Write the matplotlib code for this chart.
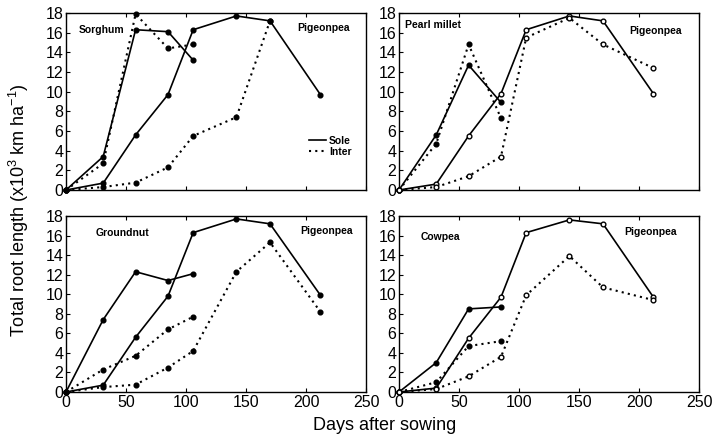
import matplotlib
matplotlib.use("Agg")
import matplotlib.pyplot as plt
from matplotlib.lines import Line2D

plt.rcParams['font.family'] = ['Liberation Sans', 'DejaVu Sans']
plt.rcParams['mathtext.fontset'] = 'custom'
plt.rcParams['mathtext.rm'] = 'Liberation Sans'
plt.rcParams['mathtext.it'] = 'Liberation Sans:italic'
plt.rcParams['mathtext.bf'] = 'Liberation Sans:bold'
plt.rcParams['mathtext.default'] = 'regular'

# ---- data ----
days_pp = [0, 31, 58, 85, 106, 142, 170, 212]
days_pp_inter_sorg = [0, 31, 58, 85, 106, 142, 170]
days_crop = [0, 31, 58, 85, 106]
days_crop_short = [0, 31, 58, 85]

# Sorghum / Pigeonpea
sorghum_sole = [0, 3.4, 16.3, 16.1, 13.2]
sorghum_inter = [0, 2.7, 17.9, 14.4, 14.8]
pp_sole_s = [0, 0.7, 5.6, 9.7, 16.3, 17.7, 17.2, 9.7]
pp_inter_s = [0, 0.3, 0.75, 2.3, 5.5, 7.4, 17.2]

# Pearl millet / Pigeonpea
millet_sole = [0, 5.6, 12.7, 8.9]
millet_inter = [0, 4.7, 14.8, 7.3]
pp_sole_m = [0, 0.6, 5.5, 9.8, 16.3, 17.7, 17.2, 9.8]
pp_inter_m = [0, 0.3, 1.4, 3.4, 15.5, 17.5, 14.8, 12.4]

# Groundnut / Pigeonpea
gnut_sole = [0, 7.4, 12.3, 11.4, 12.1]
gnut_inter = [0, 2.3, 3.7, 6.4, 7.7]
pp_sole_g = [0, 0.7, 5.6, 9.8, 16.3, 17.7, 17.2, 9.9]
pp_inter_g = [0, 0.5, 0.75, 2.5, 4.2, 12.3, 15.3, 8.2]

# Cowpea / Pigeonpea
cow_sole = [0, 3.0, 8.5, 8.7]
cow_inter = [0, 1.0, 4.7, 5.2]
pp_sole_c = [0, 0.4, 5.5, 9.7, 16.3, 17.6, 17.2, 9.7]
pp_inter_c = [0, 0.3, 1.6, 3.6, 9.9, 13.9, 10.7, 9.4]

yticks = list(range(0, 19, 2))
xticks = [0, 50, 100, 150, 200, 250]

W, H = 720, 446
fig = plt.figure(figsize=(W / 100, H / 100), dpi=100)

def ax_at(x0, y0, x1, y1):
    return fig.add_axes([x0 / W, 1 - y1 / H, (x1 - x0) / W, (y1 - y0) / H])

axTL = ax_at(66, 13, 366, 190)
axTR = ax_at(399, 13, 699, 190)
axBL = ax_at(66, 216, 366, 392)
axBR = ax_at(399, 216, 699, 392)

lw = 1.2
ms = 3.4

def plot(ax, x, y, ls, mfc='black'):
    ax.plot(x, y, color='black', linestyle=ls, linewidth=lw if ls == '-' else 1.5,
            marker='o', markersize=ms, markerfacecolor=mfc, markeredgecolor='black',
            markeredgewidth=1.0, clip_on=False, zorder=3)

dotted = (0, (1, 2))

plot(axTL, days_crop, sorghum_sole, '-')
plot(axTL, days_crop, sorghum_inter, dotted)
plot(axTL, days_pp, pp_sole_s, '-')
plot(axTL, days_pp_inter_sorg, pp_inter_s, dotted)

plot(axTR, days_crop_short, millet_sole, '-')
plot(axTR, days_crop_short, millet_inter, dotted)
plot(axTR, days_pp, pp_sole_m, '-', mfc='white')
plot(axTR, days_pp, pp_inter_m, dotted, mfc='white')

plot(axBL, days_crop, gnut_sole, '-')
plot(axBL, days_crop, gnut_inter, dotted)
plot(axBL, days_pp, pp_sole_g, '-')
plot(axBL, days_pp, pp_inter_g, dotted)

plot(axBR, days_crop_short, cow_sole, '-')
plot(axBR, days_crop_short, cow_inter, dotted)
plot(axBR, days_pp, pp_sole_c, '-', mfc='white')
plot(axBR, days_pp, pp_inter_c, dotted, mfc='white')

for ax in (axTL, axTR, axBL, axBR):
    ax.set_xlim(0, 250)
    ax.set_ylim(0, 18)
    ax.set_yticks(yticks)
    ax.set_xticks(xticks)
    ax.tick_params(direction='in', length=3, width=0.8, labelsize=11.5, pad=2,
                   top=True)
    for s in ax.spines.values():
        s.set_linewidth(1.0)

for ax in (axTL, axTR):
    ax.tick_params(labelbottom=False)

lab = dict(fontsize=7.5, fontweight='bold', ha='left', va='center')
axTL.text(11, 16.3, 'Sorghum', **lab)
axTL.text(193, 16.5, 'Pigeonpea', **lab)
axTR.text(5, 16.8, 'Pearl millet', **lab)
axTR.text(192, 16.2, 'Pigeonpea', **lab)
axBL.text(25, 16.3, 'Groundnut', **lab)
axBL.text(195, 16.5, 'Pigeonpea', **lab)
axBR.text(18, 15.9, 'Cowpea', **lab)
axBR.text(188, 16.4, 'Pigeonpea', **lab)

handles = [Line2D([], [], color='black', lw=lw, linestyle='-'),
           Line2D([], [], color='black', lw=1.5, linestyle=dotted)]
leg = axTL.legend(handles, ['Sole', 'Inter'], loc='upper left',
                  bbox_to_anchor=(0.79, 0.34), frameon=False, handlelength=1.6,
                  handletextpad=0.3, labelspacing=0.1, borderpad=0.1,
                  prop={'size': 7.5, 'weight': 'bold'})

fig.text(385 / W, 1 - 426 / H, 'Days after sowing', fontsize=13,
         ha='center', va='center')
fig.text(19 / W, 1 - 210 / H, 'Total root length (x10$^3$ km ha$^{-1}$)',
         fontsize=13, rotation=90, ha='center', va='center')

fig.savefig('out.png', dpi=100)
